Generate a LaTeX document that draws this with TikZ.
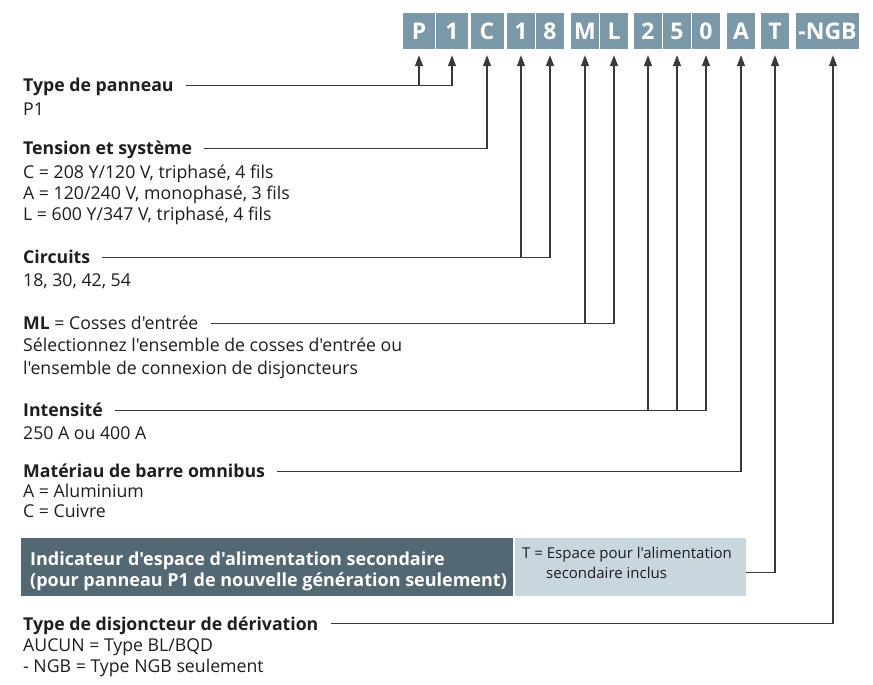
\documentclass[tikz,border=0pt]{standalone}
\usepackage{fontspec}
\setmainfont{Open Sans}[Ligatures=TeXOff]
\usetikzlibrary{arrows.meta}
\definecolor{boxblue}{HTML}{7A98A8}
\definecolor{darkbox}{HTML}{546873}
\definecolor{lightbox}{HTML}{C8D6DE}
\definecolor{linegrey}{HTML}{3A3A3A}
\definecolor{txt}{HTML}{1E1E1E}
\begin{document}
\begin{tikzpicture}[x=1pt,y=-1pt,
  code/.style={fill=boxblue,text=white,font=\fontsize{23}{23}\selectfont\bfseries,minimum height=36pt,inner sep=0pt},
  lbl/.style={font=\fontsize{17.7}{21}\selectfont,text=txt,inner sep=0pt,anchor=base west,text height=12.6pt,text depth=0pt},
  hd/.style={lbl,font=\fontsize{17.7}{21}\selectfont\bfseries},
  small/.style={font=\fontsize{15}{18}\selectfont,text=txt,inner sep=0pt,anchor=base west},
  boxtxt/.style={font=\fontsize{18}{21}\selectfont\bfseries,text=white,inner sep=0pt,anchor=base west},
  conn/.style={draw=linegrey,line width=1.1pt},
  arr/.style={conn,-{Triangle[length=11pt,width=8pt]}}
]
\useasboundingbox[fill=white] (0,0) rectangle (873,685);

% code boxes
\node[code,minimum width=32pt] (bP) at (419,31) {P};
\node[code,minimum width=32pt] (b1) at (452,31) {1};
\node[code,minimum width=33pt] (bC) at (487,31) {C};
\node[code,minimum width=28pt] (b18a) at (521,31) {1};
\node[code,minimum width=28pt] (b18b) at (550,31) {8};
\node[code,minimum width=28pt] (bM) at (585,31) {M};
\node[code,minimum width=28pt] (bL) at (614,31) {L};
\node[code,minimum width=28pt] (b2) at (648,31) {2};
\node[code,minimum width=28pt] (b5) at (677,31) {5};
\node[code,minimum width=28pt] (b0) at (706,31) {0};
\node[code,minimum width=28pt] (bA) at (741,31) {A};
\node[code,minimum width=28pt] (bT) at (775,31) {T};
\node[code,minimum width=63pt] (bN) at (827.5,31) {-NGB};

% Type de panneau
\node[hd] (hTP) at (23,91.5) {Type de panneau};
\node[lbl] (tTP) at (23,115.5) {P1};

% Tension
\node[hd] (hTS) at (23,154.5) {Tension et système};
\node[lbl] (tTS1) at (23,178) {C = 208 Y/120 V, triphasé, 4 fils};
\node[lbl] (tTS2) at (23,199) {A = 120/240 V, monophasé, 3 fils};
\node[lbl] (tTS3) at (23,220) {L = 600 Y/347 V, triphasé, 4 fils};

% Circuits
\node[hd] (hCI) at (23,263.5) {Circuits};
\node[lbl] (tCI) at (23,286.5) {18, 30, 42, 54};

% ML
\node[lbl] (hML) at (23,329.5) {\textbf{ML} = Cosses d'entrée};
\node[lbl] (tML1) at (23,351.5) {Sélectionnez l'ensemble de cosses d'entrée ou};
\node[lbl] (tML2) at (23,374) {l'ensemble de connexion de disjoncteurs};

% Intensite
\node[hd] (hIN) at (23,416.5) {Intensité};
\node[lbl] (tIN) at (23,439.5) {250 A ou 400 A};

% Materiau
\node[hd] (hMA) at (23,477.5) {Matériau de barre omnibus};
\node[lbl] (tMA1) at (23,497.5) {A = Aluminium};
\node[lbl] (tMA2) at (23,517) {C = Cuivre};

% Indicateur box
\node[fill=darkbox,minimum width=492pt,minimum height=58pt,anchor=north west,inner sep=0pt] (ind) at (21,538) {};
\node[boxtxt] (ind1) at (30,565.5) {Indicateur d'espace d'alimentation secondaire};
\node[boxtxt] (ind2) at (30,586.5) {(pour panneau P1 de nouvelle génération seulement)};
\node[fill=lightbox,minimum width=231pt,minimum height=58pt,anchor=north west,inner sep=0pt] (tb) at (514.5,538) {};
\node[small] (tb1) at (522,558.5) {T = Espace pour l'alimentation};
\node[small] (tb2) at (546,578.5) {secondaire inclus};

% Type de disjoncteur
\node[hd] (hTD) at (23,630) {Type de disjoncteur de dérivation};
\node[lbl] (tTD1) at (23,651.5) {AUCUN = Type BL/BQD};
\node[lbl] (tTD2) at (23,672.5) {- NGB = Type NGB seulement};

% connectors
\draw[arr] ([xshift=12pt]hTP.east) -| ([yshift=-6pt]b1.south);
\draw[arr] (hTP.east -| bP.south) -- ([yshift=-6pt]bP.south);

\draw[arr] ([xshift=12pt]hTS.east) -| ([yshift=-6pt]bC.south);

\draw[arr] ([xshift=12pt]hCI.east) -| ([yshift=-6pt]b18b.south);
\draw[arr] (hCI.east -| b18a.south) -- ([yshift=-6pt]b18a.south);

\draw[arr] ([xshift=12pt]hML.east) -| ([yshift=-6pt]bL.south);
\draw[arr] (hML.east -| bM.south) -- ([yshift=-6pt]bM.south);

\draw[arr] ([xshift=12pt]hIN.east) -| ([yshift=-6pt]b0.south);
\draw[arr] (hIN.east -| b2.south) -- ([yshift=-6pt]b2.south);
\draw[arr] (hIN.east -| b5.south) -- ([yshift=-6pt]b5.south);

\draw[arr] ([xshift=12pt]hMA.east) -| ([yshift=-6pt]bA.south);

\draw[arr] ([yshift=-5pt]tb.east) -| ([yshift=-6pt]bT.south);

\draw[arr] ([xshift=12pt]hTD.east) -| ([xshift=5.5pt,yshift=-6pt]bN.south);
\end{tikzpicture}
\end{document}
